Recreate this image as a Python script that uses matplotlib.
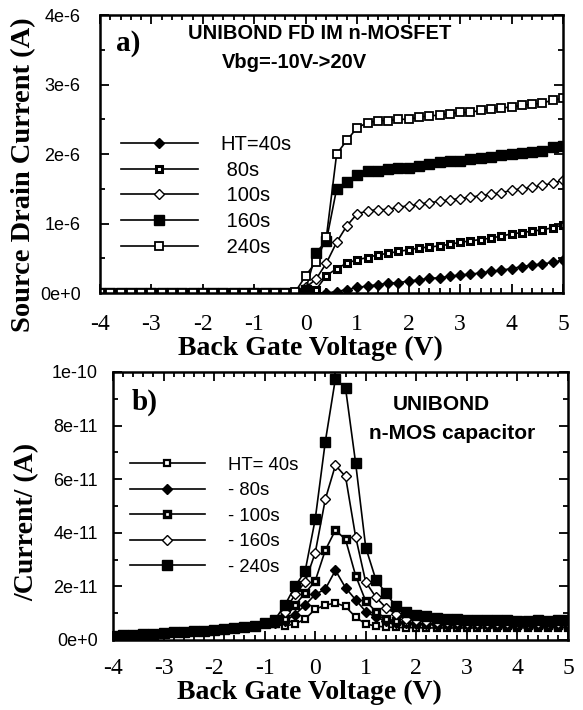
import numpy as np
import matplotlib
matplotlib.use('Agg')
import matplotlib.pyplot as plt
from matplotlib.ticker import MultipleLocator, FuncFormatter

# back gate voltage sweep (V)
voltage = [-4.0, -3.8, -3.6, -3.4, -3.2, -3.0, -2.8, -2.6, -2.4, -2.2,
           -2.0, -1.8, -1.6, -1.4, -1.2, -1.0, -0.8, -0.6, -0.4, -0.2,
           0.0, 0.2, 0.4, 0.6, 0.8, 1.0, 1.2, 1.4, 1.6, 1.8,
           2.0, 2.2, 2.4, 2.6, 2.8, 3.0, 3.2, 3.4, 3.6, 3.8,
           4.0, 4.2, 4.4, 4.6, 4.8, 5.0]

# panel a: source drain current (1e-6 A), -4.0 .. -0.4 is flat zero
off_a = [0.0, 0.0, 0.0, 0.0, 0.0, 0.0, 0.0, 0.0, 0.0, 0.0,
         0.0, 0.0, 0.0, 0.0, 0.0, 0.0, 0.0, 0.0, 0.0]
ids_40 = [0.0, 0.0, 0.0, 0.0, 0.02, 0.05, 0.08, 0.10, 0.12, 0.14, 0.15, 0.17, 0.19,
          0.21, 0.22, 0.24, 0.26, 0.27, 0.29, 0.31, 0.33, 0.35, 0.38, 0.40, 0.42, 0.44, 0.47]
ids_80 = [0.0, 0.02, 0.05, 0.25, 0.35, 0.43, 0.48, 0.51, 0.55, 0.57, 0.60, 0.62, 0.65,
          0.66, 0.68, 0.70, 0.73, 0.75, 0.77, 0.79, 0.82, 0.85, 0.87, 0.89, 0.91, 0.94, 0.98]
ids_100 = [0.0, 0.08, 0.20, 0.43, 0.73, 0.97, 1.14, 1.18, 1.20, 1.20, 1.24, 1.25, 1.28,
           1.30, 1.32, 1.34, 1.36, 1.38, 1.40, 1.42, 1.44, 1.48, 1.50, 1.52, 1.55, 1.58, 1.62]
ids_160 = [0.0, 0.05, 0.58, 0.75, 1.50, 1.60, 1.70, 1.75, 1.76, 1.78, 1.80, 1.80, 1.83,
           1.86, 1.88, 1.90, 1.90, 1.93, 1.95, 1.96, 1.98, 2.00, 2.02, 2.03, 2.05, 2.10, 2.12]
ids_240 = [0.02, 0.25, 0.45, 0.80, 2.00, 2.20, 2.38, 2.45, 2.48, 2.48, 2.50, 2.50, 2.53,
           2.55, 2.56, 2.58, 2.60, 2.60, 2.63, 2.65, 2.66, 2.68, 2.70, 2.72, 2.73, 2.78, 2.80]
labels_a = ['HT=40s', ' 80s', ' 100s', ' 160s', ' 240s']

# panel b: |current| (1e-12 A), common tail -4.0 .. -1.0
tail_b = [1.5, 1.7, 1.9, 2.1, 2.3, 2.5, 2.8, 3.0, 3.2, 3.5, 3.7, 4.0, 4.4, 4.8, 5.4, 6.2]
cap_40 = [6.0, 5.2, 6.0, 7.8, 11.5, 13.0, 13.8, 12.5, 8.5, 6.0, 5.2, 4.8, 4.7, 4.6, 4.6,
          4.5, 4.5, 4.5, 4.5, 4.5, 4.5, 4.5, 4.5, 4.5, 4.5, 4.5, 4.5, 4.5, 4.6, 4.6]
cap_80 = [6.3, 7.0, 9.5, 13.0, 17.0, 19.0, 26.0, 19.5, 15.0, 10.6, 8.5, 7.0, 6.5, 6.2, 6.0,
          5.8, 5.7, 5.6, 5.6, 5.5, 5.5, 5.5, 5.4, 5.4, 5.4, 5.4, 5.4, 5.4, 5.5, 5.5]
cap_100 = [6.5, 8.0, 13.0, 17.5, 22.0, 33.5, 41.0, 37.5, 24.0, 14.5, 10.6, 8.0, 7.0, 6.5, 6.2,
           6.0, 6.0, 5.9, 5.9, 5.8, 5.8, 5.8, 5.7, 5.7, 5.7, 5.7, 5.6, 5.6, 5.7, 5.7]
cap_160 = [7.0, 10.6, 17.0, 21.6, 32.5, 52.5, 65.2, 61.0, 38.5, 21.6, 16.0, 12.0, 9.7, 8.0, 7.5,
           7.0, 6.8, 6.7, 6.6, 6.5, 6.5, 6.4, 6.4, 6.3, 6.3, 6.3, 6.3, 6.2, 6.3, 6.3]
cap_240 = [7.5, 13.0, 20.0, 25.6, 45.0, 74.0, 97.5, 94.0, 66.0, 34.5, 22.5, 17.5, 12.5, 10.6, 9.5,
           8.8, 8.2, 8.0, 7.8, 7.6, 7.5, 7.4, 7.3, 7.3, 7.2, 7.2, 7.3, 7.2, 7.3, 7.4]
labels_b = ['HT= 40s', '- 80s', '- 100s', '- 160s', '- 240s']

SERIF = 'Liberation Serif'
SANS = 'Liberation Sans'
plt.rcParams['font.family'] = SANS
plt.rcParams['axes.unicode_minus'] = False

x = np.array(voltage)

def sci(v, pos):
    if v == 0:
        return '0e+0'
    m, e = f'{v:.0e}'.split('e')
    return f'{m}e{int(e)}'

def style_axes(ax, ymajor, yminor, xpad, ypad):
    ax.set_xlim(-4, 5)
    ax.xaxis.set_major_locator(MultipleLocator(1))
    ax.xaxis.set_minor_locator(MultipleLocator(0.2))
    ax.yaxis.set_major_locator(MultipleLocator(ymajor))
    ax.yaxis.set_minor_locator(MultipleLocator(yminor))
    ax.yaxis.set_major_formatter(FuncFormatter(sci))
    ax.tick_params(which='both', direction='in', top=True, right=True, width=1.3)
    ax.tick_params(which='major', length=6.5)
    ax.tick_params(which='minor', length=3.5)
    ax.tick_params(axis='x', which='major', pad=xpad, labelsize=17)
    ax.tick_params(axis='y', which='major', pad=ypad, labelsize=13)
    for lab in ax.get_xticklabels():
        lab.set_family(SERIF)
    for sp in ax.spines.values():
        sp.set_linewidth(1.8)

fig = plt.figure(figsize=(5.83, 7.10), dpi=100)
ax1 = fig.add_axes([0.1715, 0.5873, 0.7942, 0.3915])
ax2 = fig.add_axes([0.1938, 0.0986, 0.7804, 0.3775])

# ---- panel a ----
series_a = [ids_40, ids_80, ids_100, ids_160, ids_240]
styles_a = [dict(marker='D', mfc='black', mec='black', ms=5.5, mew=1),
            dict(marker='s', mfc='white', mec='black', ms=4.6, mew=2.2),
            dict(marker='D', mfc='white', mec='black', ms=5.5, mew=1),
            dict(marker='s', mfc='black', mec='black', ms=6.5, mew=1),
            dict(marker='s', mfc='white', mec='black', ms=6.3, mew=1.3)]
for vals, st, lab in zip(series_a, styles_a, labels_a):
    y = np.array(off_a + vals) * 1e-6
    ax1.plot(x, y, color='black', lw=1.2, label=lab, **st)

style_axes(ax1, 1e-6, 0.5e-6, 15, 14)
ax1.set_ylim(0, 4e-6)
ax1.set_xlabel('Back Gate Voltage (V)', family=SERIF, fontweight='bold', fontsize=20)
ax1.xaxis.set_label_coords(0.454, -0.155)
ax1.set_ylabel('Source Drain Current (A)', family=SERIF, fontweight='bold', fontsize=20.5)
ax1.yaxis.set_label_coords(-0.165, 0.424)
ax1.yaxis.label.set_va('center')
ax1.text(0.035, 0.899, 'a)', transform=ax1.transAxes, family=SERIF, fontweight='bold',
         fontsize=21, ha='left', va='center')
ax1.text(0.475, 0.935, 'UNIBOND FD IM n-MOSFET', transform=ax1.transAxes,
         fontweight='bold', fontsize=14.5, ha='center', va='center')
ax1.text(0.419, 0.831, 'Vbg=-10V->20V', transform=ax1.transAxes,
         fontweight='bold', fontsize=14.5, ha='center', va='center')
ax1.legend(loc='upper left', bbox_to_anchor=(0.028, 0.597), frameon=False, fontsize=14.5,
           handlelength=3.8, handletextpad=1.15, labelspacing=0.33, numpoints=1,
           borderaxespad=0)

# ---- panel b ----
series_b = [cap_40, cap_80, cap_100, cap_160, cap_240]
styles_b = [dict(marker='s', mfc='white', mec='black', ms=5.0, mew=1.6),
            dict(marker='D', mfc='black', mec='black', ms=5.5, mew=1),
            dict(marker='s', mfc='white', mec='black', ms=5.0, mew=2.4),
            dict(marker='D', mfc='white', mec='black', ms=5.5, mew=1),
            dict(marker='s', mfc='black', mec='black', ms=7, mew=1)]
for vals, st, lab in zip(series_b, styles_b, labels_b):
    y = np.array(tail_b + vals) * 1e-12
    ax2.plot(x, y, color='black', lw=1.2, label=lab, **st)

style_axes(ax2, 2e-11, 1e-11, 13, 11)
ax2.set_ylim(0, 1e-10)
ax2.set_xlabel('Back Gate Voltage (V)', family=SERIF, fontweight='bold', fontsize=20)
ax2.xaxis.set_label_coords(0.431, -0.149)
ax2.set_ylabel('/Current/ (A)', family=SERIF, fontweight='bold', fontsize=20)
ax2.yaxis.set_label_coords(-0.189, 0.44)
ax2.yaxis.label.set_va('center')
ax2.text(0.040, 0.888, 'b)', transform=ax2.transAxes, family=SERIF, fontweight='bold',
         fontsize=21, ha='left', va='center')
ax2.text(0.721, 0.877, 'UNIBOND', transform=ax2.transAxes,
         fontweight='bold', fontsize=15, ha='center', va='center')
ax2.text(0.745, 0.772, 'n-MOS capacitor', transform=ax2.transAxes,
         fontweight='bold', fontsize=15, ha='center', va='center')
ax2.legend(loc='upper left', bbox_to_anchor=(0.021, 0.711), frameon=False, fontsize=13.3,
           handlelength=4.05, handletextpad=1.25, labelspacing=0.46, numpoints=1,
           borderaxespad=0)

fig.savefig('out.png', dpi=100)
